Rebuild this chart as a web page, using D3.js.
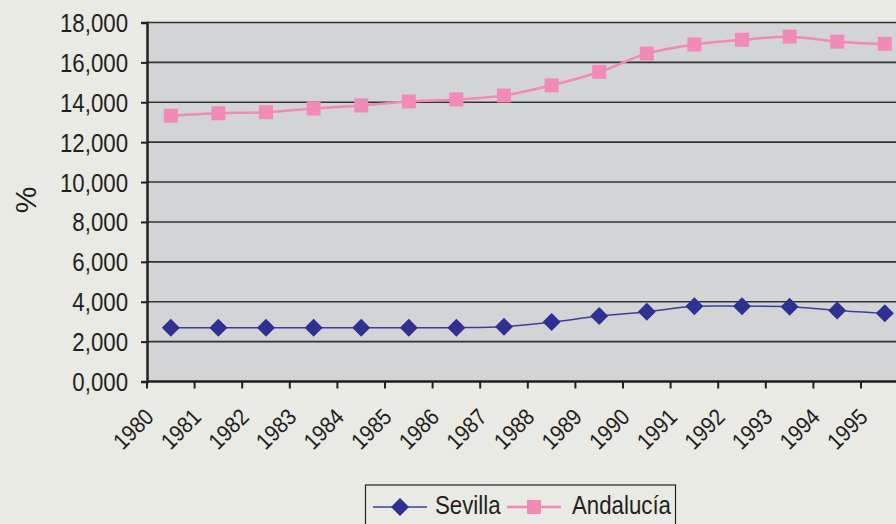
<!DOCTYPE html>
<html>
<head>
<meta charset="utf-8">
<script src="https://cdn.jsdelivr.net/npm/d3@7"></script>
<style>
  html, body { margin: 0; padding: 0; background: #e9eae3; overflow: hidden; }
  svg { display: block; font-family: "Liberation Sans", Arial, sans-serif; }
</style>
</head>
<body>
<div id="chart"></div>
<script>
const years = ['1980','1981','1982','1983','1984','1985','1986','1987','1988','1989','1990','1991','1992','1993','1994','1995'];
const sevilla = [2700, 2700, 2690, 2690, 2690, 2690, 2700, 2750, 2980, 3280, 3500, 3770, 3770, 3750, 3560, 3420];
const andalucia = [13330, 13450, 13500, 13690, 13840, 14040, 14140, 14340, 14850, 15520, 16440, 16900, 17130, 17290, 17040, 16930];
const yTicks = [0, 2000, 4000, 6000, 8000, 10000, 12000, 14000, 16000, 18000];

const width = 896, height = 524;
const plotLeft = 147, plotTop = 22.5, plotBottom = 381.5;
const band = 47.6;
const plotRight = plotLeft + band * years.length;
const squeeze = 'scale(0.89,1)'; // condensed look, like the printed font
const ink = '#231f20';

const svg = d3.select('#chart').append('svg')
    .attr('width', width)
    .attr('height', height);

const x = d3.scaleBand()
    .domain(years)
    .range([plotLeft, plotRight]);

const y = d3.scaleLinear()
    .domain([0, 18000])
    .range([plotBottom, plotTop]);

const label = v => v === 0 ? '0,000' : d3.format(',')(v);

// plot area
svg.append('rect')
    .attr('x', plotLeft)
    .attr('y', plotTop)
    .attr('width', plotRight - plotLeft)
    .attr('height', plotBottom - plotTop)
    .attr('fill', '#d3d4d6');

// gridlines
svg.append('g')
    .selectAll('line')
    .data(yTicks.filter(d => d > 0))
    .join('line')
    .attr('x1', plotLeft)
    .attr('x2', plotRight)
    .attr('y1', d => y(d))
    .attr('y2', d => y(d))
    .attr('stroke', '#333333')
    .attr('stroke-width', 1.6);

// y axis
const yAxis = svg.append('g')
    .attr('transform', `translate(${plotLeft},0)`)
    .call(d3.axisLeft(y).tickValues(yTicks).tickSize(6).tickFormat(label));
yAxis.select('.domain').attr('stroke', ink).attr('stroke-width', 2.5);
yAxis.selectAll('.tick line').attr('stroke', ink).attr('stroke-width', 2);
yAxis.selectAll('text')
    .attr('x', 0)
    .attr('dy', '0.36em')
    .attr('transform', `translate(-19,0) ${squeeze}`)
    .attr('fill', ink)
    .style('font-size', '25px')
    .style('font-family', '"Liberation Sans", Arial, sans-serif');

// x axis
const xAxis = svg.append('g')
    .attr('transform', `translate(0,${plotBottom})`);
xAxis.append('line')
    .attr('x1', plotLeft)
    .attr('x2', plotRight)
    .attr('stroke', ink)
    .attr('stroke-width', 2.5);
xAxis.selectAll('line.tick')
    .data(years)
    .join('line')
    .attr('class', 'tick')
    .attr('x1', d => x(d))
    .attr('x2', d => x(d))
    .attr('y1', 0)
    .attr('y2', 7)
    .attr('stroke', ink)
    .attr('stroke-width', 2);
xAxis.selectAll('text')
    .data(years)
    .join('text')
    .attr('transform', d => `translate(${x(d) + 8},${37}) rotate(-45) ${squeeze}`)
    .attr('text-anchor', 'end')
    .attr('fill', ink)
    .style('font-size', '23px')
    .text(d => d);

// y title
svg.append('text')
    .attr('transform', 'translate(36,200) rotate(-90)')
    .attr('text-anchor', 'middle')
    .attr('fill', ink)
    .style('font-size', '30px')
    .text('%');

const cx = d => x(d) + x.bandwidth() / 2;

// Andalucía
const andPts = years.map((d, i) => [cx(d), y(andalucia[i])]);
svg.append('path')
    .attr('d', d3.line().curve(d3.curveCatmullRom)(andPts))
    .attr('fill', 'none')
    .attr('stroke', '#f28ab8')
    .attr('stroke-width', 2.5);
svg.append('g')
    .selectAll('rect')
    .data(andPts)
    .join('rect')
    .attr('x', d => d[0] - 7)
    .attr('y', d => d[1] - 7)
    .attr('width', 14)
    .attr('height', 14)
    .attr('fill', '#f28ab8');

// Sevilla
const sevPts = years.map((d, i) => [cx(d), y(sevilla[i])]);
svg.append('path')
    .attr('d', d3.line().curve(d3.curveCatmullRom)(sevPts))
    .attr('fill', 'none')
    .attr('stroke', '#3b3f9b')
    .attr('stroke-width', 1.5);
svg.append('g')
    .selectAll('path')
    .data(sevPts)
    .join('path')
    .attr('transform', d => `translate(${d[0]},${d[1]})`)
    .attr('d', 'M0,-9L9,0L0,9L-9,0Z')
    .attr('fill', '#2e3192');

// legend
const lg = svg.append('g');
lg.append('rect')
    .attr('x', 365.5)
    .attr('y', 485)
    .attr('width', 310)
    .attr('height', 50)
    .attr('fill', 'none')
    .attr('stroke', ink)
    .attr('stroke-width', 1.2);
const ly = 507;
lg.append('line')
    .attr('x1', 373).attr('x2', 427).attr('y1', ly).attr('y2', ly)
    .attr('stroke', '#3b3f9b').attr('stroke-width', 1.5);
lg.append('path')
    .attr('transform', `translate(400,${ly})`)
    .attr('d', 'M0,-9L9,0L0,9L-9,0Z')
    .attr('fill', '#2e3192');
lg.append('text')
    .attr('transform', `translate(435,${ly + 7}) ${squeeze}`)
    .attr('fill', ink)
    .style('font-size', '25px')
    .text('Sevilla');
lg.append('line')
    .attr('x1', 507).attr('x2', 561).attr('y1', ly).attr('y2', ly)
    .attr('stroke', '#f28ab8').attr('stroke-width', 2.5);
lg.append('rect')
    .attr('x', 527).attr('y', ly - 7).attr('width', 14).attr('height', 14)
    .attr('fill', '#f28ab8');
lg.append('text')
    .attr('transform', `translate(572,${ly + 7}) ${squeeze}`)
    .attr('fill', ink)
    .style('font-size', '25px')
    .text('Andalucía');
</script>
</body>
</html>
